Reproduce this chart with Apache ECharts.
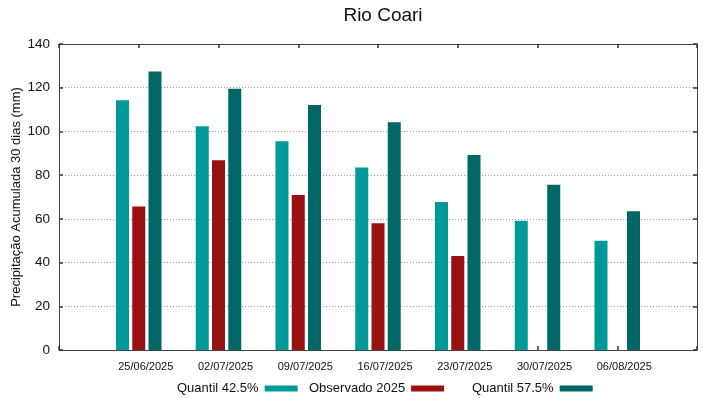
<!DOCTYPE html>
<html>
<head>
<meta charset="utf-8">
<script src="https://cdn.jsdelivr.net/npm/echarts@6/dist/echarts.min.js"></script>
<style>
  html, body { margin: 0; padding: 0; background: #fff; }
  #chart { width: 719px; height: 399px; }
</style>
</head>
<body>
<div id="chart"></div>
<script>
// datas das semanas
var dates = ['25/06/2025', '02/07/2025', '09/07/2025', '16/07/2025', '23/07/2025', '30/07/2025', '06/08/2025'];
var q425 = [114.3, 102.4, 95.5, 83.5, 67.7, 59.1, 50.0];
var observado = [65.6, 86.8, 70.9, 58.0, 43.0, null, null];
var q575 = [127.4, 119.5, 112.1, 104.2, 89.2, 75.6, 63.5];
var yTicks = [0, 20, 40, 60, 80, 100, 120, 140];

function toPairs(arr) {
    var out = [];
    for (var i = 0; i < arr.length; i++) {
        if (arr[i] != null) out.push([i, arr[i]]);
    }
    return out;
}

var myChart = echarts.init(document.getElementById('chart'));
var fontFam = '"Liberation Sans", Arial, sans-serif';
var boxColor = '#444';
var tickStyle = { show: true, inside: true, length: 4, lineStyle: { color: '#333', width: 1.5 } };

function legendAt(name, left) {
    return {
        left: left, top: 377,
        align: 'right',
        itemWidth: 33, itemHeight: 6,
        icon: 'rect',
        textStyle: { fontSize: 13, color: '#111', fontFamily: fontFam, padding: [0, 1, 0, 0] },
        data: [name]
    };
}

var option = {
    backgroundColor: '#fff',
    animation: false,
    textStyle: { fontFamily: fontFam },
    title: {
        text: 'Rio Coari',
        left: 378, top: 1,
        textAlign: 'center',
        textStyle: { fontSize: 19, fontWeight: 'normal', color: '#111', fontFamily: fontFam }
    },
    legend: [
        legendAt('Quantil 42.5%', 172),
        legendAt('Observado 2025', 304),
        legendAt('Quantil 57.5%', 467)
    ],
    grid: {
        left: 59, right: 22, top: 44, bottom: 49,
        show: false,
        containLabel: false, outerBoundsMode: 'none'
    },
    xAxis: [{
        type: 'value', min: -1, max: 7, interval: 1, position: 'bottom',
        axisLine: { show: true, onZero: false, lineStyle: { color: boxColor } },
        axisTick: tickStyle,
        splitLine: { show: false },
        axisLabel: {
            fontSize: 11, color: '#111', margin: 11, padding: [0, 0, 0, 14],
            formatter: function (v) { return dates[v] || ''; }
        }
    }, {
        type: 'value', min: -1, max: 7, interval: 1, position: 'top',
        axisLine: { show: true, onZero: false, lineStyle: { color: boxColor } },
        axisTick: tickStyle,
        splitLine: { show: false },
        axisLabel: { show: true, color: 'rgba(0,0,0,0)', formatter: function () { return ''; } }
    }],
    yAxis: [{
        type: 'value', min: 0, max: 140, interval: 20, position: 'left',
        name: 'Precipitação Acumulada 30 dias (mm)',
        nameLocation: 'middle', nameGap: 36, nameMoveOverlap: false,
        nameTextStyle: { fontSize: 13, color: '#111', fontFamily: fontFam },
        axisLine: { show: true, onZero: false, lineStyle: { color: boxColor } },
        axisTick: tickStyle,
        axisLabel: { fontSize: 13.5, color: '#111', margin: 9 },
        splitLine: { lineStyle: { color: '#999', type: [1, 2], width: 1 } }
    }, {
        type: 'value', min: 0, max: 140, interval: 20, position: 'right',
        axisLine: { show: true, onZero: false, lineStyle: { color: boxColor } },
        axisTick: tickStyle,
        axisLabel: { show: true, color: 'rgba(0,0,0,0)', formatter: function () { return ''; } },
        splitLine: { show: false }
    }],
    series: [{
        name: 'Quantil 42.5%', type: 'bar',
        data: toPairs(q425),
        barWidth: 13, barGap: '25%',
        itemStyle: { color: '#009999' }
    }, {
        name: 'Observado 2025', type: 'bar',
        data: toPairs(observado),
        barWidth: 13, barGap: '25%',
        itemStyle: { color: '#991111' }
    }, {
        name: 'Quantil 57.5%', type: 'bar',
        data: toPairs(q575),
        barWidth: 13, barGap: '25%',
        itemStyle: { color: '#006666' }
    }]
};

myChart.setOption(option);
</script>
</body>
</html>
